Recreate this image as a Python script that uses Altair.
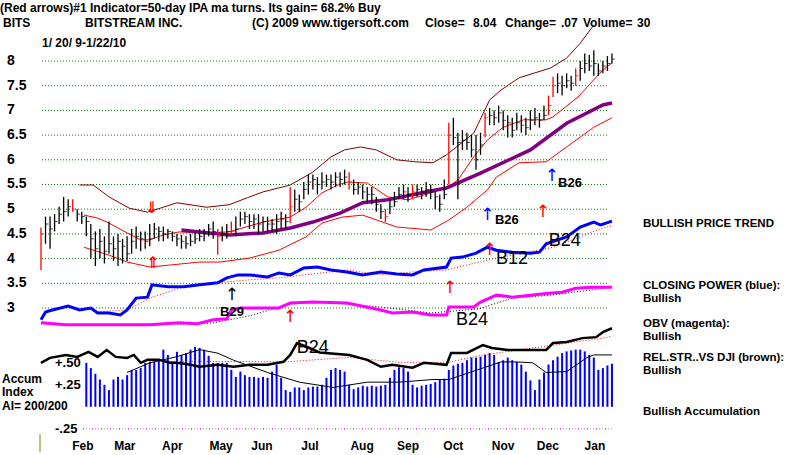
import altair as alt
import pandas as pd

# ---------------- data ----------------
# trading-day index of every drawn price bar (every 2nd session, 1/20/09 .. 1/22/10)
bar_day = list(range(0, 253, 2))
close = [
    4.5, 4.7, 4.6, 4.75, 4.9, 4.95, 5.05, 5.0, 4.9, 4.85,
    4.75, 4.4, 4.2, 4.35, 4.15, 4.3, 4.2, 4.35, 4.25, 4.1,
    4.35, 4.45, 4.4, 4.35, 4.4, 4.6, 4.55, 4.5, 4.55, 4.45,
    4.4, 4.35, 4.3, 4.35, 4.4, 4.45, 4.5, 4.6, 4.55, 4.45,
    4.5, 4.55, 4.55, 4.6, 4.8, 4.85, 4.75, 4.8, 4.7, 4.75,
    4.7, 4.7, 4.75, 4.8, 4.75, 5.05, 5.2, 5.15, 5.4, 5.55,
    5.6, 5.5, 5.55, 5.6, 5.55, 5.65, 5.6, 5.65, 5.55, 5.4,
    5.45, 5.35, 5.3, 5.3, 5.1, 4.95, 4.85, 5.05, 5.15, 5.3,
    5.35, 5.3, 5.35, 5.4, 5.35, 5.4, 5.35, 5.25, 5.1, 5.3,
    6.5, 6.45, 6.35, 6.4, 6.35, 6.2, 6.0, 6.3, 6.85, 6.9,
    6.85, 6.95, 6.8, 6.75, 6.6, 6.75, 6.7, 6.65, 6.8, 6.85,
    6.8, 6.9, 7.1, 7.5, 7.55, 7.5, 7.6, 7.55, 7.7, 7.85,
    7.95, 7.9, 7.95, 7.8, 7.9, 7.95, 8.04,
]
high = [
    4.63, 4.85, 4.85, 4.9, 5.05, 5.25, 5.2, 5.2, 5.0, 4.95,
    4.85, 4.7, 4.55, 4.6, 4.45, 4.75, 4.45, 4.5, 4.4, 4.45,
    4.6, 4.65, 4.55, 4.55, 4.7, 4.72, 4.65, 4.65, 4.6, 4.55,
    4.5, 4.48, 4.45, 4.5, 4.55, 4.6, 4.6, 4.7, 4.75, 4.6,
    4.65, 4.7, 4.75, 4.85, 4.95, 4.95, 4.9, 4.9, 4.9, 4.85,
    4.85, 4.8, 4.9, 4.95, 4.9, 5.45, 5.4, 5.3, 5.55, 5.7,
    5.7, 5.65, 5.75, 5.7, 5.7, 5.75, 5.75, 5.8, 5.75, 5.6,
    5.55, 5.5, 5.45, 5.45, 5.25, 5.1, 5.0, 5.2, 5.35, 5.45,
    5.5, 5.45, 5.5, 5.5, 5.45, 5.55, 5.5, 5.35, 5.3, 5.6,
    6.75, 6.85, 6.55, 6.6, 6.55, 6.5, 6.5, 6.55, 6.95, 7.05,
    7.0, 7.1, 7.0, 6.9, 6.85, 6.95, 6.9, 6.85, 7.0, 7.05,
    6.95, 7.1, 7.3, 7.68, 7.75, 7.7, 7.75, 7.7, 7.85, 8.0,
    8.15, 8.12, 8.22, 7.95, 8.0, 8.1, 8.15,
]
low = [
    3.77, 4.3, 4.2, 4.55, 4.7, 4.75, 4.85, 4.95, 4.75, 4.7,
    4.45, 4.0, 3.85, 4.0, 3.9, 4.1, 3.95, 3.85, 3.9, 3.95,
    4.1, 4.2, 4.15, 4.2, 4.25, 4.4, 4.35, 4.35, 4.4, 4.35,
    4.25, 4.2, 4.2, 4.25, 4.3, 4.35, 4.35, 4.45, 4.4, 4.08,
    4.35, 4.4, 4.45, 4.45, 4.65, 4.7, 4.6, 4.6, 4.5, 4.55,
    4.55, 4.55, 4.5, 4.6, 4.6, 4.72, 4.95, 4.95, 5.2, 5.3,
    5.4, 5.3, 5.4, 5.45, 5.4, 5.45, 5.45, 5.5, 5.4, 5.3,
    5.3, 5.2, 5.15, 5.1, 4.95, 4.8, 4.74, 4.9, 5.05, 5.2,
    5.2, 5.15, 5.2, 5.25, 5.2, 5.25, 5.2, 5.0, 4.95, 5.2,
    5.5, 6.3, 5.2, 6.2, 6.2, 6.05, 5.8, 6.1, 6.45, 6.7,
    6.7, 6.75, 6.6, 6.45, 6.45, 6.6, 6.55, 6.5, 6.6, 6.7,
    6.65, 6.8, 6.9, 7.27, 7.35, 7.3, 7.45, 7.4, 7.5, 7.6,
    7.75, 7.8, 7.7, 7.7, 7.75, 7.8, 7.95,
]
red_bar_numbers = [0, 7, 39, 42, 55, 68, 76, 82, 90, 98, 112, 113, 118]

# accumulation index (starts at bar 10)
accum = [
    0.50, 0.44, 0.375, 0.31, 0.25, 0.19, 0.31, 0.34, 0.31, 0.36,
    0.42, 0.42, 0.44, 0.50, 0.51, 0.51, 0.53, 0.65, 0.59, 0.51,
    0.625, 0.59, 0.61, 0.65, 0.68, 0.67, 0.65, 0.58, 0.50, 0.50,
    0.50, 0.50, 0.42, 0.34, 0.40, 0.36, 0.34, 0.34, 0.33, 0.34,
    0.33, 0.40, 0.48, 0.33, 0.19, 0.17, 0.22, 0.22, 0.19, 0.22,
    0.23, 0.23, 0.25, 0.33, 0.42, 0.44, 0.42, 0.40, 0.25, 0.20,
    0.22, 0.24, 0.23, 0.24, 0.23, 0.24, 0.25, 0.33, 0.42, 0.45,
    0.44, 0.40, 0.25, 0.22, 0.24, 0.25, 0.26, 0.28, 0.31, 0.32,
    0.42, 0.47, 0.49, 0.50, 0.53, 0.56, 0.56, 0.57, 0.59, 0.61,
    0.59, 0.51, 0.53, 0.56, 0.53, 0.51, 0.48, 0.40, 0.30, 0.19,
    0.31, 0.39, 0.48, 0.53, 0.57, 0.61, 0.63, 0.64, 0.65, 0.65,
    0.63, 0.59, 0.56, 0.42, 0.44, 0.47, 0.49,
]
acc_ma_day = [38, 48, 60, 70, 78, 85, 100, 114, 129, 144, 158, 173, 180, 203, 210, 217, 223, 232, 241, 244, 252]
acc_ma_val = [0.39, 0.5, 0.57, 0.65, 0.61, 0.53, 0.39, 0.28, 0.22, 0.28, 0.28, 0.31, 0.31, 0.51, 0.51, 0.5, 0.39, 0.40, 0.56, 0.59, 0.59]

# Bollinger bands and 50-day ma (price units)
upper_day = [17, 23, 30, 39, 47, 54, 60, 73, 83, 91, 98, 110, 120, 128, 134, 141, 148, 157, 165, 173, 179, 191, 198, 203, 211, 225, 232, 238, 244]
upper_val = [5.49, 5.49, 5.25, 5.02, 4.94, 5.04, 5.13, 5.04, 5.09, 5.23, 5.35, 5.49, 5.75, 6.06, 6.20, 6.26, 6.20, 6.0, 5.96, 5.94, 6.10, 6.54, 7.21, 7.41, 7.66, 7.86, 8.06, 8.36, 8.73]
mid_day = [19, 25, 30, 38, 44, 48, 54, 61, 70, 83, 98, 110, 117, 124, 131, 135, 144, 153, 162, 172, 179, 184, 191, 197, 204, 213, 223, 226, 237, 248, 252]
mid_val = [4.88, 4.82, 4.72, 4.52, 4.38, 4.38, 4.48, 4.54, 4.52, 4.54, 4.74, 4.84, 5.04, 5.33, 5.49, 5.55, 5.53, 5.25, 5.19, 5.33, 5.43, 5.59, 6.06, 6.40, 6.66, 6.81, 6.81, 6.87, 7.27, 7.82, 7.96]
lower_day = [19, 30, 38, 48, 57, 70, 79, 92, 105, 117, 124, 133, 142, 157, 172, 180, 188, 197, 201, 211, 223, 232, 244, 252]
lower_val = [4.23, 4.07, 3.93, 3.83, 3.87, 3.93, 3.93, 4.01, 4.17, 4.44, 4.72, 4.84, 4.88, 4.64, 4.58, 4.78, 5.04, 5.39, 5.65, 5.94, 5.96, 6.26, 6.66, 6.85]
ma50_day = [62, 70, 83, 98, 110, 120, 132, 142, 153, 172, 179, 194, 216, 232, 248, 252]
ma50_val = [4.58, 4.54, 4.48, 4.52, 4.62, 4.74, 4.92, 5.13, 5.19, 5.37, 5.43, 5.73, 6.20, 6.74, 7.11, 7.15]

# indicator lines (plotted in the price panel's units, as in the reference)
cp_day = [0, 2, 5, 12, 17, 22, 25, 30, 35, 38, 42, 47, 49, 56, 63, 70, 78, 82, 87, 92,
          100, 105, 110, 116, 122, 128, 135, 142, 150, 157, 164, 169, 179, 181, 186, 192, 197, 201, 208, 216,
          220, 223, 232, 238, 244, 247, 252]
cp_val = [2.76, 2.92, 2.96, 3.04, 2.96, 3.0, 2.90, 2.90, 2.86, 2.96, 3.20, 3.22, 3.47, 3.43, 3.43, 3.47, 3.51, 3.61, 3.67, 3.67,
          3.63, 3.71, 3.67, 3.81, 3.83, 3.77, 3.73, 3.67, 3.73, 3.69, 3.67, 3.77, 3.83, 4.01, 4.03, 4.11, 4.23, 4.17, 4.13, 4.11,
          4.13, 4.30, 4.44, 4.64, 4.74, 4.68, 4.76]
cp_ma_day = [25, 38, 49, 63, 78, 92, 105, 135, 150, 164, 179, 201, 226, 248, 252]
cp_ma_val = [2.92, 2.96, 3.22, 3.43, 3.51, 3.57, 3.61, 3.77, 3.67, 3.73, 3.77, 4.01, 4.23, 4.62, 4.66]
obv_day = [0, 11, 26, 48, 61, 69, 76, 82, 84, 88, 105, 110, 120, 135, 150, 155, 164, 172, 179, 180,
           191, 194, 201, 208, 216, 224, 230, 236, 243, 252]
obv_val = [2.70, 2.66, 2.66, 2.66, 2.70, 2.68, 2.76, 2.78, 2.96, 3.0, 3.0, 3.10, 3.12, 3.10, 2.96, 2.90, 2.92, 2.86, 2.86, 3.02,
           3.02, 3.12, 3.26, 3.22, 3.26, 3.30, 3.32, 3.40, 3.42, 3.42]
obv_ma_day = [19, 70, 76, 92, 110, 124, 150, 172, 193, 208, 225, 252]
obv_ma_val = [2.66, 2.68, 2.70, 2.84, 3.08, 3.12, 3.02, 2.90, 2.98, 3.20, 3.26, 3.42]
rs_day = [0, 4, 11, 16, 21, 25, 29, 33, 38, 41, 44, 47, 52, 57, 60, 66, 70, 78, 85, 92,
          100, 107, 110, 113, 118, 123, 136, 144, 150, 155, 164, 169, 179, 181, 188, 195, 199, 206, 214, 223,
          226, 232, 239, 245, 248, 252]
rs_val = [1.89, 1.99, 2.05, 2.01, 2.11, 2.01, 2.15, 2.01, 1.99, 2.05, 1.89, 1.95, 1.95, 1.89, 1.89, 1.85, 1.81, 1.85, 1.81, 1.85,
          1.85, 1.91, 2.05, 2.29, 2.2, 2.1, 2.05, 1.95, 1.81, 1.85, 1.79, 1.89, 1.85, 2.09, 2.09, 2.25, 2.19, 2.15, 2.15, 2.15,
          2.29, 2.31, 2.39, 2.41, 2.51, 2.59]
rs_ma_day = [48, 70, 108, 136, 158, 180, 195, 217, 248, 252]
rs_ma_val = [1.91, 1.92, 1.91, 2.0, 1.9, 1.9, 2.05, 2.19, 2.39, 2.43]

price_ticks = [8, 7.5, 7, 6.5, 6, 5.5, 5, 4.5, 4, 3.5, 3]
price_tick_labels = ["8", "7.5", "7", "6.5", "6", "5.5", "5", "4.5", "4", "3.5", "3"]
accum_ticks = [0.5, 0.25, -0.25]
accum_tick_labels = ["+.50", "+.25", "-.25"]
month_labels = ["Feb", "Mar", "Apr", "May", "Jun", "Jul", "Aug", "Sep", "Oct", "Nov", "Dec", "Jan"]
month_day = [18.5, 37, 58, 79.5, 97.5, 118.7, 141.7, 162, 182, 204, 223.7, 244.5]

# signal arrows and labels (day, price-panel position)
red_up_day, red_up_pos = [110, 180.5, 198, 221.5], [2.82, 3.40, 4.17, 4.94]
blue_up_day, blue_up_pos = [197, 225.5], [4.88, 5.67]
black_up_day, black_up_pos = [84.3], [3.26]
red_dbl_day, red_dbl_pos, red_dbl_glyph = [49, 49.4], [5.02, 3.91], ["⇓", "⇑"]
big_sig_day, big_sig_pos, big_sig_text = [120, 190.2, 207.9, 231.2], [2.19, 2.76, 4.0, 4.36], ["B24", "B24", "B12", "B24"]
small_sig_day, small_sig_pos, small_sig_text = [84.3, 205.6, 233.5], [2.92, 4.78, 5.53], ["B29", "B26", "B26"]

# ---------------- layout constants ----------------
FONT = "Liberation Sans"
ACC_ZERO = 1.0      # price-panel position of accumulation 0
ACC_UNIT = 1.78     # price-panel units per accumulation unit
XS = alt.Scale(domain=[-18.09, 335.0], nice=False, zero=False)
YS = alt.Scale(domain=[0.024, 9.235], nice=False, zero=False)


def X(f):
    return alt.X(f, type="quantitative", scale=XS, axis=None)


def Y(f):
    return alt.Y(f, type="quantitative", scale=YS, axis=None)


def line(days, vals, color, width, dash=None):
    df = pd.DataFrame({"day": days, "v": vals})
    kw = dict(color=color, strokeWidth=width, interpolate="linear")
    if dash:
        kw["strokeDash"] = dash
    return alt.Chart(df).mark_line(**kw).encode(x=X("day"), y=Y("v"), order="day:Q")


def px_text(xs, ys, labels, size=12, weight="bold", align="left", color="black"):
    df = pd.DataFrame({"px": xs, "py": ys, "label": labels})
    return alt.Chart(df).mark_text(align=align, baseline="middle", font=FONT, fontSize=size,
                                   fontWeight=weight, color=color).encode(
        x=alt.X("px:Q", scale=None, axis=None), y=alt.Y("py:Q", scale=None, axis=None), text="label:N")


def data_text(days, pos, labels, size, weight, color="black", font=FONT):
    df = pd.DataFrame({"day": days, "v": pos, "label": labels})
    return alt.Chart(df).mark_text(align="center", baseline="middle", font=font, fontSize=size,
                                   fontWeight=weight, color=color).encode(x=X("day"), y=Y("v"), text="label:N")


layers = []

# price grid
grid = pd.DataFrame({"v": price_ticks})
layers.append(alt.Chart(grid).mark_rule(color="#008000", strokeWidth=1, strokeDash=[1, 2]).encode(
    y=Y("v"), x=alt.value(42), x2=alt.value(607)))
# accumulation -.25 grid
g2 = pd.DataFrame({"a": [-0.25]})
layers.append(alt.Chart(g2).transform_calculate(v=f"{ACC_ZERO} + datum.a * {ACC_UNIT}").mark_rule(
    color="#a0a0a0", strokeWidth=1, strokeDash=[1, 2]).encode(y=Y("v"), x=alt.value(83), x2=alt.value(612)))
layers.append(alt.Chart(g2).transform_calculate(v=f"{ACC_ZERO} + datum.a * {ACC_UNIT}").mark_rule(
    color="#d000d0", strokeWidth=1, strokeDash=[1, 8]).encode(y=Y("v"), x=alt.value(83), x2=alt.value(612)))

# bands and moving average
layers.append(line(upper_day, upper_val, "#800000", 1))
layers.append(line(mid_day, mid_val, "#ff0000", 1))
layers.append(line(lower_day, lower_val, "#ff0000", 1))
layers.append(line(ma50_day, ma50_val, "#800080", 3.5))

# price bars
bars = pd.DataFrame({"day": bar_day, "high": high, "low": low, "close": close,
                     "red": [i in red_bar_numbers for i in range(len(bar_day))]})
bar_color = alt.condition("datum.red", alt.value("#ff0000"), alt.value("#000000"))
layers.append(alt.Chart(bars).mark_rule(strokeWidth=1.3).encode(x=X("day"), y=Y("low"), y2="high", color=bar_color))
layers.append(alt.Chart(bars).mark_tick(orient="horizontal", size=3, thickness=1, xOffset=1.5).encode(
    x=X("day"), y=Y("close"), color=bar_color))

# accumulation histogram
acc = pd.DataFrame({"day": bar_day[10:], "a": accum})
layers.append(alt.Chart(acc).transform_calculate(
    v=f"{ACC_ZERO} + datum.a * {ACC_UNIT}", z=f"{ACC_ZERO}").mark_rule(color="#0000ff", strokeWidth=2).encode(
    x=X("day"), y=Y("z"), y2="v"))
accma = pd.DataFrame({"day": acc_ma_day, "a": acc_ma_val})
layers.append(alt.Chart(accma).transform_calculate(v=f"{ACC_ZERO} + datum.a * {ACC_UNIT}").mark_line(
    color="black", strokeWidth=1).encode(x=X("day"), y=Y("v"), order="day:Q"))

# indicators
layers.append(line(cp_ma_day, cp_ma_val, "#ff0000", 1, [1, 2]))
layers.append(line(cp_day, cp_val, "#0000ff", 3))
layers.append(line(obv_ma_day, obv_ma_val, "#000000", 1, [1, 2]))
layers.append(line(obv_day, obv_val, "#ff00ff", 3))
layers.append(line(rs_ma_day, rs_ma_val, "#ff0000", 1, [1, 2]))
layers.append(line(rs_day, rs_val, "#000000", 2.5))

# arrows / signal labels
layers.append(data_text(red_dbl_day, red_dbl_pos, red_dbl_glyph, 16, "bold", "#ff0000", "DejaVu Sans"))
layers.append(data_text(red_up_day, red_up_pos, ["↑"] * len(red_up_day), 17, "normal", "#ff0000", "DejaVu Sans"))
layers.append(data_text(blue_up_day, blue_up_pos, ["↑"] * len(blue_up_day), 17, "normal", "#0000ff", "DejaVu Sans"))
layers.append(data_text(black_up_day, black_up_pos, ["↑"] * len(black_up_day), 17, "normal", "#000000", "DejaVu Sans"))
layers.append(data_text(big_sig_day, big_sig_pos, big_sig_text, 18, "normal"))
layers.append(data_text(small_sig_day, small_sig_pos, small_sig_text, 13, "bold"))

# axis-like labels
ptl = pd.DataFrame({"v": price_ticks, "label": price_tick_labels})
layers.append(alt.Chart(ptl).mark_text(align="left", baseline="middle", font=FONT, fontSize=14, fontWeight="bold").encode(
    x=alt.value(7), y=Y("v"), text="label:N"))
atl = pd.DataFrame({"a": accum_ticks, "label": accum_tick_labels})
layers.append(alt.Chart(atl).transform_calculate(v=f"{ACC_ZERO} + datum.a * {ACC_UNIT}").mark_text(
    align="left", baseline="middle", font=FONT, fontSize=13, fontWeight="bold").encode(
    x=alt.value(55), y=Y("v"), text="label:N"))
mtl = pd.DataFrame({"day": month_day, "label": month_labels})
layers.append(alt.Chart(mtl).mark_text(align="center", baseline="middle", font=FONT, fontSize=12, fontWeight="bold").encode(
    x=X("day"), y=alt.value(446), text="label:N"))
layers.append(alt.Chart(pd.DataFrame({"k": [0]})).mark_rule(color="#808000", strokeWidth=1).encode(
    x=alt.value(40), y=alt.value(434), y2=alt.value(452)))

# header and side texts
layers.append(px_text([0], [8], ["(Red arrows)#1 Indicator=50-day IPA ma turns. Its gain= 68.2% Buy"], 12))
layers.append(px_text([3, 85, 252, 425, 473, 505, 561, 583, 637], [23] * 9,
                      ["BITS", "BITSTREAM INC.", "(C) 2009 www.tigersoft.com", "Close=", "8.04", "Change=", ".07",
                       "Volume=", "30"], 12))
layers.append(px_text([42], [43], ["1/ 20/ 9-1/22/10"], 12))
layers.append(px_text([2, 2, 2], [379, 392, 406], ["Accum", "Index", "AI= 200/200"], 12))
layers.append(px_text([643] * 8, [224, 286, 299, 324, 337, 358, 371, 412],
                      ["BULLISH PRICE TREND", "CLOSING POWER (blue):", "Bullish", "OBV (magenta):", "Bullish",
                       "REL.STR..VS DJI (brown):", "Bullish", "Bullish Accumulation"], 11.5))

chart = alt.layer(*layers).properties(
    width=800, height=455, autosize=alt.AutoSizeParams(type="none"), padding=0, background="white"
).configure_view(stroke=None)

chart.save("out.html", embed_options={"renderer": "svg", "actions": False})
